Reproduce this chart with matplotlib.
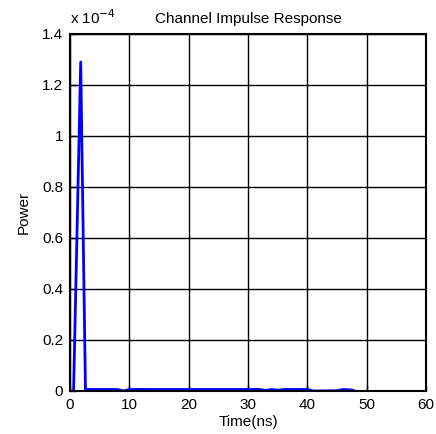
import matplotlib
matplotlib.use("Agg")
import matplotlib.pyplot as plt
import numpy as np

# channel impulse response (power in units of 1e-4)
time_ns = [0.6, 1.8, 2.6, 8.0, 9.0, 10.0, 32.0, 33.0, 34.0, 35.0, 36.0,
           40.0, 41.0, 45.0, 46.0, 47.5, 48.0]
power_e4 = [0.0, 1.29, 0.006, 0.006, 0.0, 0.006, 0.006, 0.002, 0.006, 0.003,
            0.006, 0.006, 0.0, 0.001, 0.006, 0.004, 0.0]

x_ticks = [0, 10, 20, 30, 40, 50, 60]
y_ticks = [0, 0.2, 0.4, 0.6, 0.8, 1.0, 1.2, 1.4]
y_labels = ["0", "0.2", "0.4", "0.6", "0.8", "1", "1.2", "1.4"]

plt.rcParams['font.family'] = ['Liberation Sans', 'DejaVu Sans']
fs = 11

fig = plt.figure(figsize=(4.36, 4.34), dpi=100)
ax = fig.add_axes([0.1606, 0.0991, 0.8165, 0.8226])

ax.plot(time_ns, np.array(power_e4), color='#0000ff', linewidth=2)

ax.set_xlim(0, 60)
ax.set_ylim(0, 1.4)
ax.set_xticks(x_ticks)
ax.set_yticks(y_ticks)
ax.set_yticklabels(y_labels)
ax.grid(True, color='black', linewidth=1, linestyle='-')
ax.set_axisbelow(True)
for s in ax.spines.values():
    s.set_linewidth(1.5)
ax.tick_params(direction='in', length=4, width=1, labelsize=fs, pad=5)

ax.set_xlabel('Time(ns)', fontsize=fs, labelpad=2)
ax.set_ylabel('Power', fontsize=fs, labelpad=8)
ax.set_title('Channel Impulse Response', fontsize=fs, pad=8)
ax.text(0.0, 1.02, r'x 10$^{-4}$', transform=ax.transAxes, fontsize=fs,
        ha='left', va='bottom')

fig.savefig('out.png', dpi=100)
